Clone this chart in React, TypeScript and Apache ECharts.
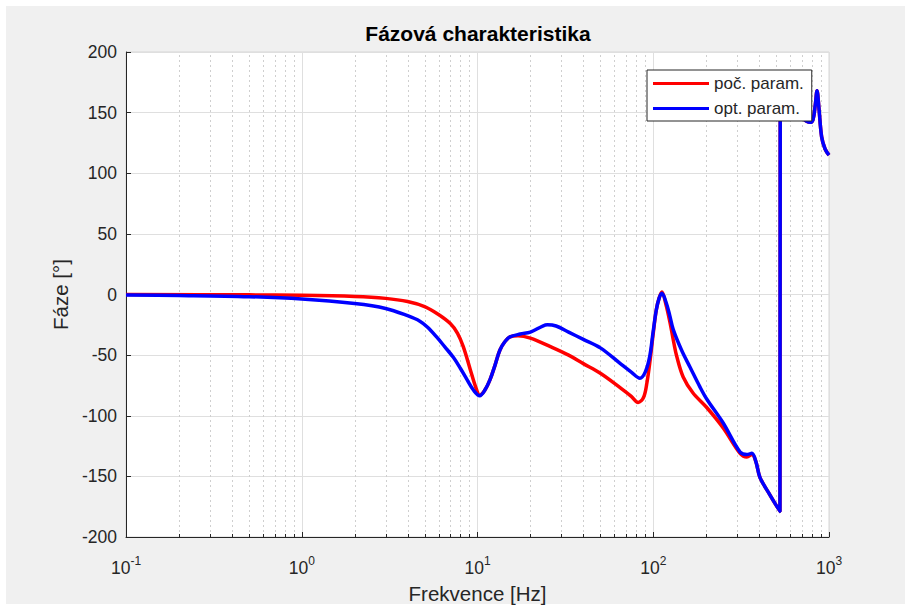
import React, { useEffect, useRef } from "react";
import * as echarts from "echarts";

const TITLE = "Fázová charakteristika";
const X_NAME = "Frekvence [Hz]";
const Y_NAME = "Fáze [°]";
const SERIES_NAMES = ["poč. param.", "opt. param."];

const X_MIN = 0.1;
const X_MAX = 1000;
const Y_MIN = -200;
const Y_MAX = 200;
const Y_STEP = 50;

const DECADES = [0.1, 1, 10, 100];
const MINOR_MULTS = [2, 3, 4, 5, 6, 7, 8, 9];

const F_RED = [0.1, 0.5, 1, 2, 3, 4, 5, 6, 7, 7.7, 8.3, 9.1, 9.8, 10.3, 11, 11.8, 12.6, 13.4, 14.3, 15.3, 17, 20, 26, 33, 40, 50, 65, 75, 82, 88, 92, 96, 100, 104, 108, 112, 118, 124.5, 131, 136, 148, 168, 201, 250, 312, 341, 364, 384, 405, 460, 526, 528, 600, 700, 780, 810, 835, 855, 875, 908, 950, 1000];
const P_RED = [-0.1, -0.3, -0.6, -1.6, -3.2, -5.8, -10, -16.5, -24, -32, -43, -62, -77, -83, -79, -70, -58, -46, -39, -35, -34, -36, -43, -50, -57, -65, -77, -84, -89, -85, -73, -54, -32, -13, -3, 2, -8, -23, -40, -51, -68, -81, -93, -110, -131, -134, -132, -138, -151, -165, -179, 178, 158, 146, 142, 144, 156, 168, 155, 130, 120, 115];

const F_BLUE = [0.1, 0.2, 0.5, 1, 2, 3, 4, 4.7, 5.2, 5.85, 6.5, 7.3, 8, 8.7, 9.5, 10.3, 11, 11.8, 12.6, 13.4, 14.3, 15.3, 17.5, 20, 23.5, 25, 28, 33, 40, 50, 65, 75, 84, 90, 95.5, 100, 104, 108, 112, 118, 124, 130, 145, 162, 184, 201, 250, 312, 341, 364, 384, 405, 460, 526, 528, 600, 700, 780, 810, 835, 855, 875, 908, 950, 1000];
const P_BLUE = [-0.4, -0.8, -1.8, -3.7, -7.5, -11.5, -17.5, -22, -27, -35, -43, -52, -61, -70, -79, -83.5, -79, -70, -58, -46, -39, -35, -32.6, -31, -26, -25, -26, -31, -37, -44, -57, -64, -69, -64, -51, -30, -13, -3, 1, -6, -17, -29, -46, -60, -76, -86, -106, -130, -132, -131, -138, -151, -165, -179, 178, 158, 146, 142, 144, 156, 168, 155, 130, 120, 115];

const FONT = "'Liberation Sans', Arial, Helvetica, sans-serif";
const TEXT_COLOR = "#262626";

export default function App() {
  const ref = useRef<HTMLDivElement>(null);

  useEffect(() => {
    document.body.style.margin = "0";
    if (!ref.current) return;
    const chart = echarts.init(ref.current, undefined, { renderer: "svg" });

    const red = F_RED.map((f, i) => [f, P_RED[i]]);
    const blue = F_BLUE.map((f, i) => [f, P_BLUE[i]]);
    const minor = DECADES.flatMap((d) => MINOR_MULTS.map((m) => [d * m, 0]));

    const option: any = {
      animation: false,
      backgroundColor: "transparent",
      textStyle: { fontFamily: FONT },
      graphic: [
        {
          type: "text",
          x: 472,
          y: 27,
          style: {
            text: TITLE,
            fontFamily: FONT,
            fontSize: 21,
            fontWeight: "bold",
            fill: "#000",
            align: "center",
            verticalAlign: "middle",
          },
        },
      ],
      grid: {
        left: 120,
        top: 46,
        right: 76,
        bottom: 70,
        show: true,
        backgroundColor: "#ffffff",
        borderColor: "#d6d6d6",
        borderWidth: 1,
        containLabel: false,
        outerBoundsMode: "none",
      },
      legend: {
        data: SERIES_NAMES,
        orient: "vertical",
        left: 641,
        top: 64,
        icon: "rect",
        itemWidth: 56,
        itemHeight: 3,
        itemGap: 8,
        padding: [5, 8, 4, 6],
        backgroundColor: "#ffffff",
        borderColor: "#262626",
        borderWidth: 1,
        borderRadius: 0,
        textStyle: { fontFamily: FONT, fontSize: 17, color: TEXT_COLOR },
      },
      xAxis: {
        type: "log",
        logBase: 10,
        min: X_MIN,
        max: X_MAX,
        name: X_NAME,
        nameLocation: "middle",
        nameGap: 46,
        nameTextStyle: { fontFamily: FONT, fontSize: 20.5, color: TEXT_COLOR },
        axisLine: { show: true, onZero: false, lineStyle: { color: TEXT_COLOR, width: 1 } },
        axisTick: { show: true, inside: true, length: 5, lineStyle: { color: TEXT_COLOR } },
        minorTick: { show: false },
        splitLine: { show: true, lineStyle: { color: "#dfdfdf", width: 1 } },
        axisLabel: {
          margin: 18,
          color: TEXT_COLOR,
          formatter: (v: number) => {
            const e = Math.round(Math.log10(v));
            return "{b|10}{s|" + e + "}";
          },
          rich: {
            b: { fontFamily: FONT, fontSize: 17.5, color: TEXT_COLOR, lineHeight: 22, verticalAlign: "bottom" },
            s: { fontFamily: FONT, fontSize: 12, color: TEXT_COLOR, lineHeight: 12, verticalAlign: "top" },
          },
        },
      },
      yAxis: {
        type: "value",
        min: Y_MIN,
        max: Y_MAX,
        interval: Y_STEP,
        name: Y_NAME,
        nameLocation: "middle",
        nameGap: 54,
        nameTextStyle: { fontFamily: FONT, fontSize: 20.5, color: TEXT_COLOR },
        axisLine: { show: true, onZero: false, lineStyle: { color: TEXT_COLOR, width: 1 } },
        axisTick: { show: true, inside: true, length: 5, lineStyle: { color: TEXT_COLOR } },
        splitLine: { show: true, lineStyle: { color: "#dfdfdf", width: 1 } },
        axisLabel: { margin: 9, fontFamily: FONT, fontSize: 17.5, color: TEXT_COLOR },
      },
      series: [
        {
          type: "custom",
          silent: true,
          z: 1,
          data: minor,
          encode: { x: 0, y: 1 },
          renderItem: (params: any, api: any) => {
            const x = api.value(0);
            const b = api.coord([x, Y_MIN]);
            const t = api.coord([x, Y_MAX]);
            const px = Math.round(b[0]) + 0.5;
            return {
              type: "group",
              children: [
                {
                  type: "line",
                  shape: { x1: px, y1: b[1], x2: px, y2: t[1] },
                  style: { stroke: "#cfcfcf", lineWidth: 1, lineDash: [2, 3] },
                },
                {
                  type: "line",
                  shape: { x1: px, y1: b[1], x2: px, y2: b[1] - 3 },
                  style: { stroke: TEXT_COLOR, lineWidth: 1 },
                },
              ],
            };
          },
        },
        {
          name: SERIES_NAMES[0],
          type: "line",
          data: red,
          showSymbol: false,
          smooth: 0.35,
          color: "#ff0000",
          lineStyle: { color: "#ff0000", width: 3.5 },
          z: 2,
        },
        {
          name: SERIES_NAMES[1],
          type: "line",
          data: blue,
          showSymbol: false,
          smooth: 0.35,
          color: "#0000ff",
          lineStyle: { color: "#0000ff", width: 3.5 },
          z: 3,
        },
      ],
    };

    chart.setOption(option);
    return () => chart.dispose();
  }, []);

  return (
    <div style={{ width: 905, height: 607, background: "#ffffff", position: "relative" }}>
      <div style={{ position: "absolute", left: 6, top: 6, width: 899, height: 598, background: "#f0f0f0" }} />
      <div ref={ref} style={{ position: "absolute", left: 6, top: 6, width: 899, height: 601 }} />
    </div>
  );
}
